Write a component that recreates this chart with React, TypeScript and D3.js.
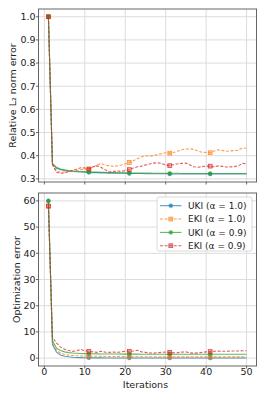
import React from 'react';
import * as d3 from 'd3';

const iterations = d3.range(1, 51);

// relative L2 norm error (top panel)
const l2UkiA10 = [
  1.0, 0.365, 0.346, 0.34, 0.336, 0.334, 0.332, 0.331, 0.33, 0.329,
  0.328, 0.327, 0.327, 0.326, 0.326, 0.325, 0.325, 0.324, 0.324, 0.324,
  0.323, 0.323, 0.323, 0.323, 0.322, 0.322, 0.322, 0.322, 0.322, 0.322,
  0.321, 0.321, 0.321, 0.321, 0.321, 0.321, 0.321, 0.321, 0.321, 0.321,
  0.321, 0.321, 0.321, 0.321, 0.321, 0.321, 0.321, 0.321, 0.321, 0.321,
];
const l2EkiA10 = [
  1.0, 0.365, 0.335, 0.328, 0.33, 0.332, 0.333, 0.336, 0.34, 0.342,
  0.34, 0.35, 0.36, 0.366, 0.36, 0.356, 0.354, 0.356, 0.36, 0.365,
  0.371, 0.378, 0.387, 0.394, 0.4, 0.398, 0.401, 0.405, 0.409, 0.413,
  0.411, 0.414, 0.42, 0.426, 0.429, 0.43, 0.427, 0.42, 0.415, 0.414,
  0.413, 0.42, 0.426, 0.423, 0.419, 0.421, 0.422, 0.424, 0.434, 0.432,
];
const l2UkiA09 = [
  1.0, 0.366, 0.35, 0.343, 0.339, 0.336, 0.334, 0.333, 0.332, 0.331,
  0.33, 0.329, 0.329, 0.328, 0.328, 0.327, 0.327, 0.327, 0.326, 0.326,
  0.326, 0.325, 0.325, 0.325, 0.325, 0.325, 0.324, 0.324, 0.324, 0.324,
  0.324, 0.324, 0.324, 0.323, 0.323, 0.323, 0.323, 0.323, 0.323, 0.323,
  0.323, 0.323, 0.323, 0.323, 0.323, 0.323, 0.323, 0.323, 0.323, 0.323,
];
const l2EkiA09 = [
  1.0, 0.362, 0.328, 0.324, 0.326, 0.332, 0.336, 0.342, 0.348, 0.347,
  0.343, 0.352, 0.356, 0.35, 0.34, 0.33, 0.332, 0.334, 0.332, 0.336,
  0.34, 0.347, 0.352, 0.355, 0.36, 0.364, 0.368, 0.37, 0.366, 0.36,
  0.357, 0.362, 0.365, 0.367, 0.368, 0.36, 0.352, 0.35, 0.353, 0.355,
  0.355, 0.352, 0.356, 0.354, 0.351, 0.352, 0.353, 0.357, 0.367, 0.365,
];

// optimization error (bottom panel)
const optUkiA10 = [
  60.0, 5.2, 2.3, 1.2, 0.75, 0.5, 0.35, 0.26, 0.2, 0.16,
  0.13, 0.11, 0.1, 0.09, 0.08, 0.07, 0.06, 0.06, 0.05, 0.05,
  0.05, 0.05, 0.05, 0.05, 0.05, 0.04, 0.04, 0.04, 0.04, 0.04,
  0.04, 0.04, 0.04, 0.04, 0.04, 0.04, 0.04, 0.04, 0.04, 0.04,
  0.04, 0.04, 0.04, 0.04, 0.04, 0.04, 0.04, 0.04, 0.04, 0.04,
];
const optEkiA10 = [
  58.0, 6.0, 3.0, 1.9, 1.4, 1.15, 1.0, 0.9, 0.85, 0.8,
  0.78, 0.75, 0.7, 0.68, 0.65, 0.62, 0.6, 0.6, 0.58, 0.56,
  0.55, 0.55, 0.54, 0.53, 0.52, 0.52, 0.51, 0.5, 0.5, 0.5,
  0.5, 0.5, 0.49, 0.49, 0.49, 0.49, 0.48, 0.48, 0.48, 0.48,
  0.48, 0.48, 0.48, 0.48, 0.47, 0.47, 0.47, 0.47, 0.47, 0.47,
];
const optUkiA09 = [
  60.0, 6.8, 3.8, 2.9, 2.4, 2.1, 1.95, 1.85, 1.78, 1.72,
  1.68, 1.65, 1.62, 1.6, 1.58, 1.57, 1.56, 1.55, 1.54, 1.53,
  1.52, 1.52, 1.52, 1.51, 1.51, 1.51, 1.51, 1.5, 1.5, 1.5,
  1.5, 1.5, 1.5, 1.5, 1.5, 1.5, 1.5, 1.5, 1.5, 1.5,
  1.5, 1.5, 1.5, 1.5, 1.5, 1.5, 1.5, 1.5, 1.5, 1.5,
];
const optEkiA09 = [
  58.0, 8.0, 5.8, 4.2, 3.4, 2.9, 2.6, 2.8, 3.3, 2.8,
  2.6, 2.4, 2.2, 2.6, 2.3, 2.2, 2.3, 2.2, 2.4, 2.6,
  2.6, 2.7, 3.0, 2.4, 2.2, 2.0, 1.9, 2.1, 2.2, 2.3,
  2.2, 2.0, 2.1, 2.3, 2.4, 2.0, 1.9, 2.0, 2.2, 2.4,
  2.5, 2.6, 2.7, 2.6, 2.6, 2.7, 2.7, 2.7, 2.8, 2.8,
];

const seriesNames = ['UKI (α = 1.0)', 'EKI (α = 1.0)', 'UKI (α = 0.9)', 'EKI (α = 0.9)'];
const seriesColors = ['#1f77b4', '#ff7f0e', '#2ca02c', '#d62728'];
const seriesMarkers = ['circle', 'square', 'circle', 'square'];
const seriesDashed = [false, true, false, true];

const xTicks = [0, 10, 20, 30, 40, 50];
const topTicks = [0.3, 0.4, 0.5, 0.6, 0.7, 0.8, 0.9, 1.0];
const bottomTicks = [0, 10, 20, 30, 40, 50, 60];

const W = 266;
const H = 399;
const left = 38.5;
const right = 256.5;
const font = 'DejaVu Sans, sans-serif';

const x = d3.scaleLinear().domain([-1.45, 52.45]).range([left, right]);

const Marker = ({ kind, cx, cy, color }: { kind: string; cx: number; cy: number; color: string }) =>
  kind === 'circle' ? (
    <circle cx={cx} cy={cy} r={1.9} fill={color} stroke={color} strokeWidth={0.6} opacity={0.75} />
  ) : (
    <rect x={cx - 1.9} y={cy - 1.9} width={3.8} height={3.8} fill={color} fillOpacity={0.45} stroke={color} strokeWidth={0.8} opacity={0.85} />
  );

const Panel = ({ series, y, ticks, fmt, top, bottom, ylabel, showX, legend }: any) => {
  const line = d3.line<number>().x((_, i) => x(iterations[i])).y((d) => y(d));
  return (
    <g>
      {/* grid */}
      {xTicks.map((t) => (
        <line key={'gx' + t} x1={x(t)} x2={x(t)} y1={top} y2={bottom} stroke="#dcdcdc" strokeWidth={1} />
      ))}
      {ticks.map((t: number) => (
        <line key={'gy' + t} x1={left} x2={right} y1={y(t)} y2={y(t)} stroke="#dcdcdc" strokeWidth={1} />
      ))}
      {/* lines */}
      {series.map((s: number[], k: number) => (
        <g key={k}>
          <path
            d={line(s) || ''}
            fill="none"
            stroke={seriesColors[k]}
            strokeWidth={1.1}
            strokeOpacity={0.75}
            strokeDasharray={seriesDashed[k] ? '3,1.6' : undefined}
          />
          {s.map((v, i) =>
            i % 10 === 0 ? (
              <Marker key={i} kind={seriesMarkers[k]} cx={x(iterations[i])} cy={y(v)} color={seriesColors[k]} />
            ) : null
          )}
        </g>
      ))}
      {/* frame */}
      <rect x={left} y={top} width={right - left} height={bottom - top} fill="none" stroke="#666" strokeWidth={1} />
      {/* y ticks */}
      {ticks.map((t: number) => (
        <g key={'ty' + t}>
          <line x1={left - 2.5} x2={left} y1={y(t)} y2={y(t)} stroke="#444" strokeWidth={0.8} />
          <text x={left - 3} y={y(t)} dy="0.35em" textAnchor="end" fontSize={9.5} fill="#222" fontFamily={font}>
            {fmt(t)}
          </text>
        </g>
      ))}
      {/* x ticks */}
      {xTicks.map((t) => (
        <g key={'tx' + t}>
          <line x1={x(t)} x2={x(t)} y1={bottom} y2={bottom + 2.5} stroke="#444" strokeWidth={0.8} />
          {showX && (
            <text x={x(t)} y={bottom + 9} textAnchor="middle" fontSize={9.5} fill="#222" fontFamily={font}>
              {t}
            </text>
          )}
        </g>
      ))}
      <text
        transform={`translate(${ylabel.x},${(top + bottom) / 2}) rotate(-90)`}
        textAnchor="middle"
        fontSize={9.5}
        fill="#222"
        fontFamily={font}
      >
        {ylabel.text}
      </text>
      {legend && (
        <g>
          <rect x={157} y={197} width={95} height={54} rx={2} fill="#fff" fillOpacity={0.85} stroke="#d0d0d0" strokeWidth={0.8} />
          {seriesNames.map((n, k) => {
            const ly = 205.7 + k * 13.35;
            return (
              <g key={n}>
                <line
                  x1={160}
                  x2={181.5}
                  y1={ly}
                  y2={ly}
                  stroke={seriesColors[k]}
                  strokeWidth={1.1}
                  strokeOpacity={0.75}
                  strokeDasharray={seriesDashed[k] ? '3,1.6' : undefined}
                />
                <Marker kind={seriesMarkers[k]} cx={170.8} cy={ly} color={seriesColors[k]} />
                <text x={188} y={ly} dy="0.35em" fontSize={9} fill="#222" fontFamily={font}>
                  {n}
                </text>
              </g>
            );
          })}
        </g>
      )}
    </g>
  );
};

export default function App() {
  const yTop = d3.scaleLinear().domain([0.2865, 1.0335]).range([182, 9]);
  const yBottom = d3.scaleLinear().domain([-3, 63]).range([366, 193]);
  return (
    <div style={{ position: 'fixed', left: 0, top: 0 }}>
      <svg width={W} height={H} style={{ display: 'block', background: '#fff' }}>
        <Panel
          series={[l2UkiA10, l2EkiA10, l2UkiA09, l2EkiA09]}
          y={yTop}
          ticks={topTicks}
          fmt={(t: number) => t.toFixed(1)}
          top={9}
          bottom={182}
          ylabel={{ x: 16, text: 'Relative L₂ norm error' }}
          showX={false}
          legend={false}
        />
        <Panel
          series={[optUkiA10, optEkiA10, optUkiA09, optEkiA09]}
          y={yBottom}
          ticks={bottomTicks}
          fmt={(t: number) => String(t)}
          top={193}
          bottom={366}
          ylabel={{ x: 19.5, text: 'Optimization error' }}
          showX={true}
          legend={true}
        />
        <text x={x(25)} y={388} textAnchor="middle" fontSize={9.5} fill="#222" fontFamily={font}>
          Iterations
        </text>
      </svg>
    </div>
  );
}
